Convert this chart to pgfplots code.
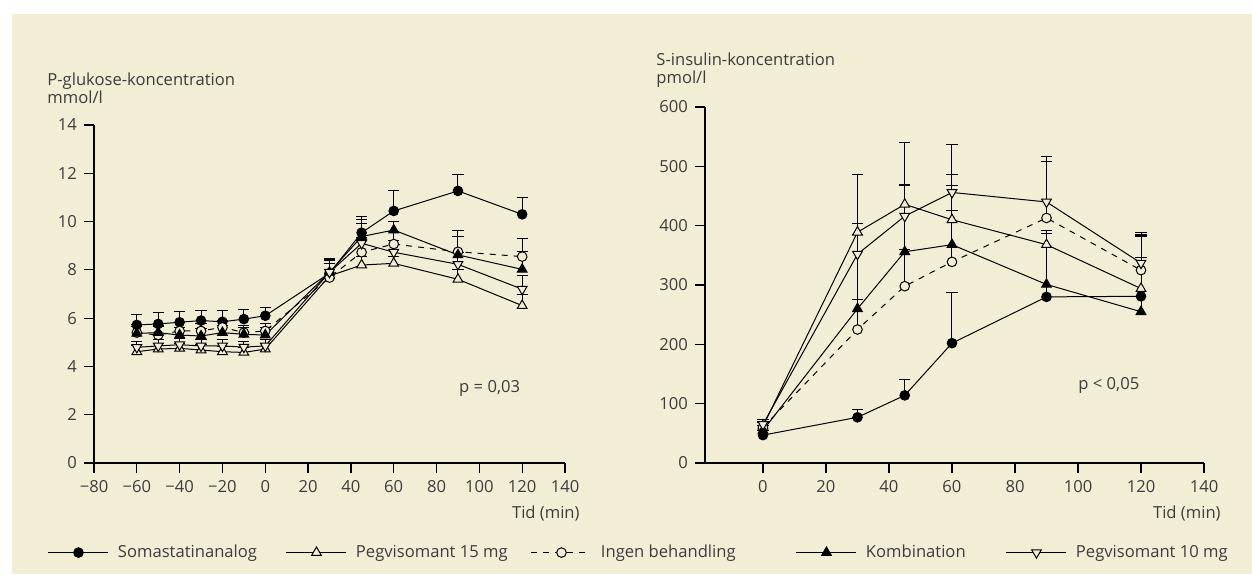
\documentclass[border=0pt]{standalone}
\usepackage{fontspec}
\setmainfont{Open Sans}
\usepackage{pgfplots}
\pgfplotsset{compat=1.18}
\definecolor{bgc}{RGB}{242,238,214}
\definecolor{txt}{RGB}{60,60,60}
\newcommand{\fs}{\fontsize{8.3}{9}\selectfont}

\pgfplotsset{
  panel/.style={
    scale only axis, axis lines*=left, tick align=outside,
    major tick length=5pt, clip=false,
    axis line style={black, line width=0.6pt},
    tick style={black, line width=0.6pt},
    tick label style={font=\fs, text=txt},
    /pgf/number format/assume math mode=true,
  },
  every axis plot/.append style={
    black, line width=0.5pt, mark size=2.4pt,
    error bars/y dir=plus, error bars/y explicit,
    error bars/error bar style={solid, line width=0.5pt},
    error bars/error mark options={solid, rotate=90, mark size=2.8pt, line width=0.5pt},
    legend image code/.code={\draw[mark repeat=2,mark phase=2] plot coordinates {(0pt,0pt)(15pt,0pt)(30pt,0pt)};},
  },
  soma/.style={mark=*, mark options={solid, fill=black}},
  p15/.style={mark=triangle*, mark options={solid, fill=bgc, mark size=2.8pt}},
  ingen/.style={dashed, mark=*, mark options={solid, fill=bgc}},
  komb/.style={mark=triangle*, mark options={solid, fill=black, mark size=2.8pt}},
  p10/.style={mark=triangle*, mark options={solid, fill=bgc, mark size=2.8pt, rotate=180}},
}
\newcommand{\legtxt}[2]{\hspace{4.5pt}\makebox[#1][l]{#2}}

\begin{document}
\begin{tikzpicture}
\fill[white] (0,0) rectangle (626pt,-287pt);
\fill[bgc] (6pt,-7pt) rectangle (626pt,-287pt);

% glukose
\begin{axis}[panel,
  at={(47pt,-231.5pt)}, anchor=south west,
  width=235.5pt, height=169pt,
  xmin=-80, xmax=140, ymin=0, ymax=14,
  xtick={-80,-60,...,140},
  xticklabels={−80,−60,−40,−20,0,20,40,60,80,100,120,140},
  ytick={0,2,...,14},
  legend columns=5, legend cell align=left,
  legend style={at={(-0.0977,-0.265)}, anchor=west, draw=none, fill=none,
    inner sep=0pt, outer sep=0pt, column sep=0pt,
    nodes={inner sep=0pt, outer sep=0pt},
    font=\fs, text=txt},
]
\addplot[soma] coordinates {
  (-60,5.72) +- (0,0.44) (-50,5.76) +- (0,0.48) (-40,5.83) +- (0,0.44)
  (-30,5.90) +- (0,0.41) (-20,5.85) +- (0,0.45) (-10,5.96) +- (0,0.39)
  (0,6.10) +- (0,0.36) (30,7.86) +- (0,0.60) (45,9.54) +- (0,0.69)
  (60,10.44) +- (0,0.86) (90,11.27) +- (0,0.69) (120,10.30) +- (0,0.68)};
\addlegendentry{\legtxt{84pt}{Somastatinanalog}}
\addplot[p15] coordinates {
  (-60,4.61) +- (0,0.25) (-50,4.72) +- (0,0.22) (-40,4.75) +- (0,0.22)
  (-30,4.68) +- (0,0.22) (-20,4.61) +- (0,0.22) (-10,4.58) +- (0,0.22)
  (0,4.72) +- (0,0.22) (30,7.75) +- (0,0.50) (45,8.20) +- (0,0.35)
  (60,8.27) +- (0,0.30) (90,7.61) +- (0,0.40) (120,6.52) +- (0,0.45)};
\addlegendentry{\legtxt{87.5pt}{Pegvisomant 15 mg}}
\addplot[ingen] coordinates {
  (-60,5.40) +- (0,0.35) (-50,5.30) +- (0,0.35) (-40,5.47) +- (0,0.35)
  (-30,5.47) +- (0,0.30) (-20,5.62) +- (0,0.30) (-10,5.40) +- (0,0.30)
  (0,5.47) +- (0,0.30) (30,7.68) +- (0,0.60) (45,8.73) +- (0,0.60)
  (60,9.07) +- (0,0.50) (90,8.75) +- (0,0.90) (120,8.55) +- (0,0.73)};
\addlegendentry{\legtxt{97.5pt}{Ingen behandling}}
\addplot[komb] coordinates {
  (-60,5.37) +- (0,0.30) (-50,5.40) +- (0,0.30) (-40,5.30) +- (0,0.30)
  (-30,5.26) +- (0,0.30) (-20,5.40) +- (0,0.30) (-10,5.33) +- (0,0.30)
  (0,5.30) +- (0,0.30) (30,7.90) +- (0,0.55) (45,9.38) +- (0,0.70)
  (60,9.65) +- (0,0.35) (90,8.62) +- (0,0.78) (120,8.02) +- (0,0.76)};
\addlegendentry{\legtxt{70pt}{Kombination}}
\addplot[p10] coordinates {
  (-60,4.79) +- (0,0.25) (-50,4.85) +- (0,0.25) (-40,4.90) +- (0,0.25)
  (-30,4.85) +- (0,0.25) (-20,4.85) +- (0,0.25) (-10,4.80) +- (0,0.25)
  (0,4.85) +- (0,0.25) (30,7.90) +- (0,0.50) (45,9.10) +- (0,0.80)
  (60,8.73) +- (0,0.50) (90,8.23) +- (0,0.50) (120,7.20) +- (0,0.55)};
\addlegendentry{\legtxt{76pt}{Pegvisomant 10 mg}}
\node[font=\fs, text=txt] at (axis cs:104.8,3.1) {p = 0,03};
\end{axis}

% insulin
\begin{axis}[panel,
  at={(352.5pt,-231.5pt)}, anchor=south west,
  width=249.5pt, height=178pt,
  xmin=-18.4, xmax=140, ymin=0, ymax=600,
  xtick={0,20,...,140}, ytick={0,100,...,600},
]
\addplot[soma] coordinates {
  (0,47) +- (0,8) (30,77) +- (0,13) (45,114) +- (0,26)
  (60,202) +- (0,85) (90,280) +- (0,112) (120,281) +- (0,100)};
\addplot[p15] coordinates {
  (0,62) +- (0,8) (30,389) +- (0,14) (45,436) +- (0,34)
  (60,410) +- (0,16) (90,368) +- (0,24) (120,294) +- (0,52)};
\addplot[ingen] coordinates {
  (0,60) +- (0,8) (30,225) +- (0,160) (45,298) +- (0,170)
  (60,339) +- (0,147) (90,413) +- (0,95) (120,325) +- (0,59)};
\addplot[komb] coordinates {
  (0,55) +- (0,8) (30,260) +- (0,15) (45,356) +- (0,4)
  (60,368) +- (0,100) (90,301) +- (0,85) (120,255) +- (0,130)};
\addplot[p10] coordinates {
  (0,65) +- (0,8) (30,352) +- (0,134) (45,416) +- (0,124)
  (60,456) +- (0,80) (90,440) +- (0,77) (120,337) +- (0,51)};
\node[font=\fs, text=txt] at (axis cs:109.8,130.7) {p < 0,05};
\end{axis}

\begin{scope}[every node/.style={font=\fs, text=txt, inner sep=0pt}]
\node[anchor=north west, align=left] at (23.5pt,-36pt) {P-glukose-koncentration\\mmol/l};
\node[anchor=north west, align=left] at (328pt,-26pt) {S-insulin-koncentration\\pmol/l};
\node[anchor=north east] at (290pt,-252.5pt) {Tid (min)};
\node[anchor=north east] at (610.5pt,-252.5pt) {Tid (min)};
\end{scope}

\pgfresetboundingbox
\path[use as bounding box] (0,0) rectangle (626pt,-287pt);
\end{tikzpicture}
\end{document}
